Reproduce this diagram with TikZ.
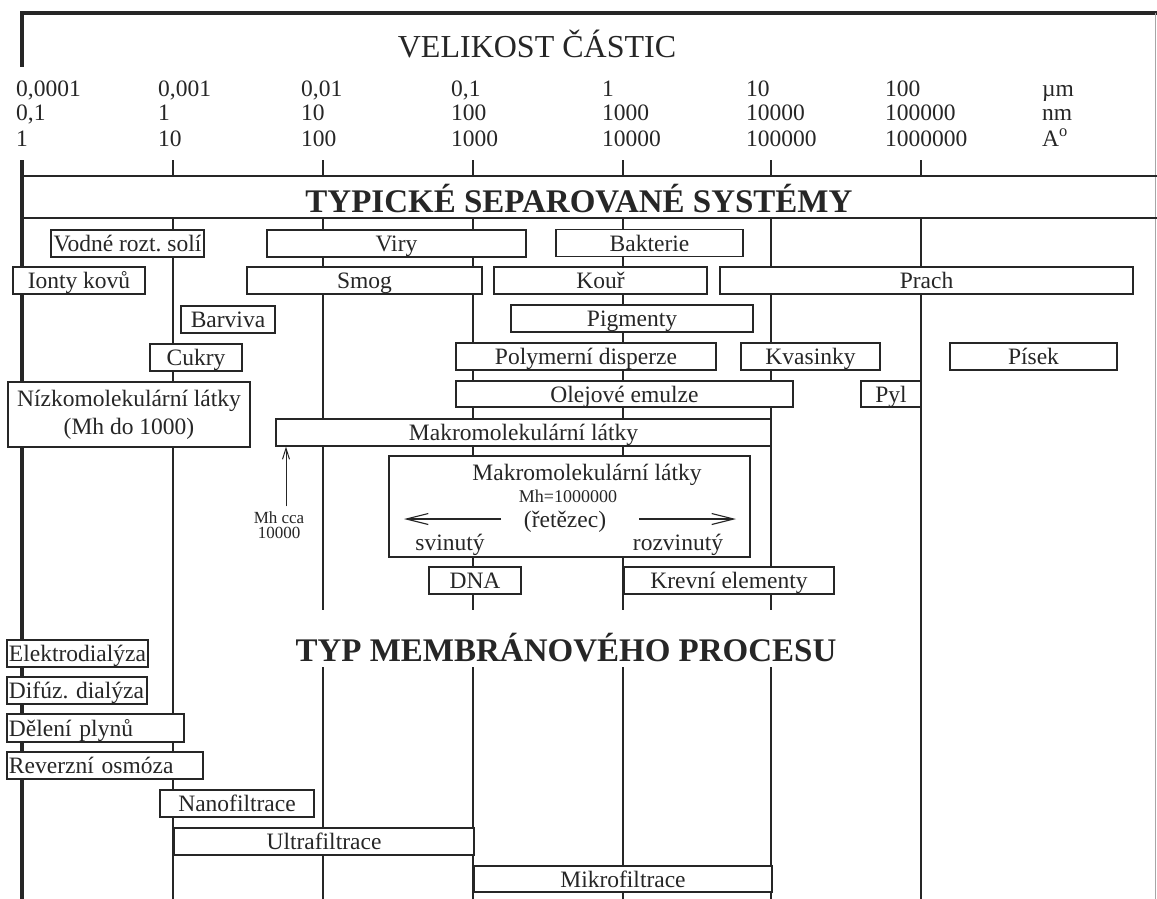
\documentclass[tikz,border=0pt]{standalone}
\usepackage{fontspec}
\setmainfont{Liberation Serif}
\usepackage{tikz}
\usetikzlibrary{arrows.meta}

\newcommand{\lblfont}{\fontsize{23.5}{28}\selectfont}
\newcommand{\numfont}{\fontsize{23.5}{26}\selectfont}
\newcommand{\tinyfont}{\fontsize{17}{15}\selectfont}
\newcommand{\mhfont}{\fontsize{18}{20}\selectfont}
\newcommand{\headfont}{\fontsize{32}{36}\selectfont}
\newcommand{\bighead}{\fontsize{33}{38}\selectfont\bfseries}

\begin{document}
\frenchspacing
\begin{tikzpicture}[x=1pt, y=-1pt,
    ink/.style={black!85},
    gridline/.style={ink, line width=1.1pt},
    frame/.style={ink, line width=4pt},
    sysbox/.style={draw=black!85, text=black!85, line width=1.3pt, fill=white,
                   inner sep=0pt, font=\lblfont, text height=19pt, text depth=3pt},
    procbox/.style={sysbox, inner xsep=2pt, align=left},
    lbl/.style={text=black!85, inner sep=0pt, font=\lblfont},
    num/.style={anchor=base west, inner sep=0pt, text=black!85, font=\numfont},
    barb/.style={-{Straight Barb[length=22pt, width=11pt]}, ink, line width=1.1pt},
    uparrow/.style={-{Straight Barb[length=11pt, width=7pt]}, ink, line width=1pt}]

\fill[white] (0,0) rectangle (1157,899);
\useasboundingbox (0,0) rectangle (1157,899);

% Frame
\draw[frame, line join=miter] (22,67) -- (22,13) -- (1157,13);
\draw[frame] (22,160) -- (22,899);
\draw[black!35, line width=0.8pt] (1155,13) -- (1155,899);
\draw[gridline] (22,176) -- (1157,176);
\draw[gridline] (22,218) -- (1157,218);

% Grid - ticks and columns
\draw[gridline] (173,160) -- (173,176) (173,218) -- (173,899);
\draw[gridline] (323,160) -- (323,176) (323,218) -- (323,610) (323,667) -- (323,899);
\draw[gridline] (473,160) -- (473,176) (473,218) -- (473,610) (473,667) -- (473,899);
\draw[gridline] (623,160) -- (623,176) (623,218) -- (623,610) (623,667) -- (623,899);
\draw[gridline] (771,160) -- (771,176) (771,218) -- (771,610) (771,667) -- (771,899);
\draw[gridline] (921,160) -- (921,176) (921,218) -- (921,899);

% Headings
\node[lbl, font=\headfont, anchor=base] (velikost) at (537,58) {VELIKOST ČÁSTIC};
\node[lbl, font=\bighead, anchor=base] (typicke) at (579,212) {TYPICKÉ SEPAROVANÉ SYSTÉMY};
\node[lbl, font=\bighead, anchor=base] (typmem) at (566,661) {TYP MEMBRÁNOVÉHO PROCESU};

% Scale - micrometres
\node[num] (um1) at (16,96) {0,0001};
\node[num] (um2) at (158,96) {0,001};
\node[num] (um3) at (301,96) {0,01};
\node[num] (um4) at (451,96) {0,1};
\node[num] (um5) at (602,96) {1};
\node[num] (um6) at (746,96) {10};
\node[num] (um7) at (885,96) {100};
\node[num] (umu) at (1042,96) {µm};
% Scale - nanometres
\node[num] (nm1) at (16,121) {0,1};
\node[num] (nm2) at (158,121) {1};
\node[num] (nm3) at (301,121) {10};
\node[num] (nm4) at (451,121) {100};
\node[num] (nm5) at (602,121) {1000};
\node[num] (nm6) at (746,121) {10000};
\node[num] (nm7) at (885,121) {100000};
\node[num] (nmu) at (1042,121) {nm};
% Scale - angstroms
\node[num] (an1) at (16,146) {1};
\node[num] (an2) at (158,146) {10};
\node[num] (an3) at (301,146) {100};
\node[num] (an4) at (451,146) {1000};
\node[num] (an5) at (602,146) {10000};
\node[num] (an6) at (746,146) {100000};
\node[num] (an7) at (885,146) {1000000};
\node[num] (anu) at (1042,146) {A\textsuperscript{o}};

% Separated systems
\node[sysbox, minimum width=153, minimum height=27] (vodne) at (127.5,243.5) {Vodné rozt. solí};
\node[sysbox, minimum width=259, minimum height=27] (viry) at (396.5,243.5) {Viry};
\node[sysbox, minimum width=187, minimum height=27] (bakterie) at (649.5,243) {Bakterie};
\node[sysbox, minimum width=132, minimum height=27] (ionty) at (79,280.5) {Ionty kovů};
\node[sysbox, minimum width=235, minimum height=27] (smog) at (364.5,280.5) {Smog};
\node[sysbox, minimum width=213, minimum height=27] (kour) at (600.5,280.5) {Kouř};
\node[sysbox, minimum width=413, minimum height=27] (prach) at (926.5,280.5) {Prach};
\node[sysbox, minimum width=94, minimum height=27] (barviva) at (228,319.5) {Barviva};
\node[sysbox, minimum width=242, minimum height=27] (pigmenty) at (632,318.5) {Pigmenty};
\node[sysbox, minimum width=92, minimum height=27] (cukry) at (196,357.5) {Cukry};
\node[sysbox, minimum width=260, minimum height=27] (polymer) at (586,356.5) {Polymerní disperze};
\node[sysbox, minimum width=139, minimum height=27] (kvasinky) at (810.5,356.5) {Kvasinky};
\node[sysbox, minimum width=167, minimum height=27] (pisek) at (1033.5,356.5) {Písek};
\node[draw=black!85, text=black!85, line width=1.3pt, fill=white, inner sep=0pt, font=\lblfont,
      align=center, minimum width=242, minimum height=65] (nizko) at (129,414.5)
      {Nízkomolekulární látky\\(Mh do 1000)};
\node[sysbox, minimum width=337, minimum height=26] (olej) at (624.5,394) {Olejové emulze};
\node[sysbox, minimum width=60, minimum height=26] (pyl) at (891,394) {Pyl};
\node[sysbox, minimum width=495, minimum height=27] (makro) at (523.5,432.5) {Makromolekulární látky};

% Large molecules
\node[sysbox, minimum width=361, minimum height=101] (big) at (569.5,506.5) {};
\node[lbl, anchor=base] (makro2) at (587,480) {Makromolekulární látky};
\node[lbl, font=\mhfont, anchor=base] (mhmil) at (568,502) {Mh=1000000};
\node[lbl, anchor=base] (retezec) at (565,527) {(řetězec)};
\node[lbl, anchor=base] (svinuty) at (450,550) {svinutý};
\node[lbl, anchor=base] (rozvinuty) at (678,550) {rozvinutý};
\coordinate (coilfrom) at (501,519);
\coordinate (coilto) at (404,519);
\coordinate (unrollfrom) at (639,519);
\coordinate (unrollto) at (736,519);
\draw[barb] (coilfrom) -- (coilto);
\draw[barb] (unrollfrom) -- (unrollto);

\node[lbl, font=\tinyfont, align=center] (mhcca) at (279,525) {Mh cca\\10000};
\draw[uparrow] ([xshift=7pt, yshift=5pt]mhcca.north) -- ([xshift=7pt]mhcca.north |- makro.south);

\node[sysbox, minimum width=92, minimum height=27] (dna) at (475,580.5) {DNA};
\node[sysbox, minimum width=210, minimum height=27] (krev) at (729,580.5) {Krevní elementy};

% Membrane processes
\node[procbox, text width=137, minimum height=27] (elektro) at (77.5,653.5) {\mbox{Elektrodialýza}};
\node[procbox, text width=136, minimum height=27] (difuz) at (77,690.5) {\mbox{Difúz. dialýza}};
\node[procbox, text width=173, minimum height=28] (deleni) at (95.5,728) {\mbox{Dělení plynů}};
\node[procbox, text width=192, minimum height=27] (reverz) at (105,765.5) {\mbox{Reverzní osmóza}};
\node[sysbox, minimum width=154, minimum height=27] (nano) at (237,803.5) {Nanofiltrace};
\node[sysbox, minimum width=300, minimum height=27] (ultra) at (324,841.5) {Ultrafiltrace};
\node[sysbox, minimum width=298, minimum height=26] (mikro) at (623,879) {Mikrofiltrace};

\end{tikzpicture}
\end{document}
